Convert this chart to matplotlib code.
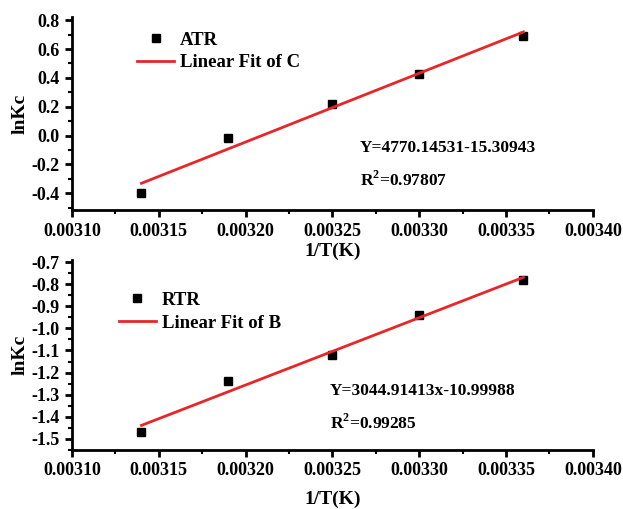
import numpy as np
import matplotlib.pyplot as plt
from matplotlib.ticker import MultipleLocator, FormatStrFormatter

# data
inv_t = [0.00314, 0.00319, 0.00325, 0.00330, 0.00336]
lnkc_atr = [-0.40, -0.02, 0.22, 0.43, 0.69]
lnkc_rtr = [-1.47, -1.24, -1.12, -0.94, -0.78]

# fit parameters as printed on the chart
fit_atr = (4770.14531, -15.30943)
fit_rtr = (3044.91413, -10.99988)
eq_atr = ["Y=4770.14531-15.30943", "R$^{\\mathbf{2}}$=0.97807"]
eq_rtr = ["Y=3044.91413x-10.99988", "R$^{\\mathbf{2}}$=0.99285"]

plt.rcParams['font.family'] = 'Liberation Serif'
plt.rcParams['font.weight'] = 'bold'
plt.rcParams['mathtext.fontset'] = 'custom'
plt.rcParams['mathtext.bf'] = 'Liberation Serif:bold'
plt.rcParams['mathtext.rm'] = 'Liberation Serif:bold'


def style_axes(ax, ylim, ymajor, xpad):
    ax.set_xlim(0.00310, 0.00340)
    ax.set_ylim(*ylim)
    ax.spines['top'].set_visible(False)
    ax.spines['right'].set_visible(False)
    for s in ('left', 'bottom'):
        ax.spines[s].set_linewidth(2)
    ax.xaxis.set_major_locator(MultipleLocator(0.00005))
    ax.xaxis.set_minor_locator(MultipleLocator(0.000025))
    ax.xaxis.set_major_formatter(FormatStrFormatter('%.5f'))
    ax.yaxis.set_major_locator(MultipleLocator(ymajor))
    ax.yaxis.set_minor_locator(MultipleLocator(ymajor / 2))
    ax.yaxis.set_major_formatter(FormatStrFormatter('%.1f'))
    ax.tick_params(which='major', direction='out', length=5, width=2,
                   labelsize=13, pad=4)
    ax.tick_params(which='minor', direction='out', length=3, width=1.5)
    ax.set_xlabel('1/T(K)', fontsize=14, fontweight='bold', labelpad=xpad)
    ax.set_ylabel('lnKc', fontsize=14, fontweight='bold', labelpad=2)


def draw_panel(ax, y, fit, name, fitname, eq, ylim, ymajor, eq_pos, leg_pos,
               xpad):
    ax.plot(inv_t, y, 's', color='black', markersize=5.5, label=name)
    xf = np.array([inv_t[0], inv_t[-1]])
    ax.plot(xf, fit[0] * xf + fit[1], color='#e8262a', lw=2, label=fitname)
    style_axes(ax, ylim, ymajor, xpad)
    ax.legend(loc='upper left', bbox_to_anchor=leg_pos, frameon=False,
              fontsize=13.5, handlelength=2.0, handletextpad=0.3,
              labelspacing=0.3, borderaxespad=0)
    ax.text(eq_pos[0], eq_pos[1], eq[0], transform=ax.transAxes,
            fontsize=12.5, fontweight='bold', va='center')
    ax.text(eq_pos[0], eq_pos[1] - 0.17, eq[1], transform=ax.transAxes,
            fontsize=12.5, fontweight='bold', va='center')


fig = plt.figure(figsize=(6.23, 5.09), dpi=100)
ax1 = fig.add_axes([0.1156, 0.587, 0.836, 0.379])
ax2 = fig.add_axes([0.1156, 0.116, 0.836, 0.373])

draw_panel(ax1, lnkc_atr, fit_atr, 'ATR', 'Linear Fit of C', eq_atr,
           (-0.518, 0.82), 0.2, (0.552, 0.325), (0.11, 0.965), 2)
draw_panel(ax2, lnkc_rtr, fit_rtr, 'RTR', 'Linear Fit of B', eq_rtr,
           (-1.55, -0.691), 0.1, (0.495, 0.31), (0.075, 0.872), 8)

fig.savefig('out.png', dpi=100)
